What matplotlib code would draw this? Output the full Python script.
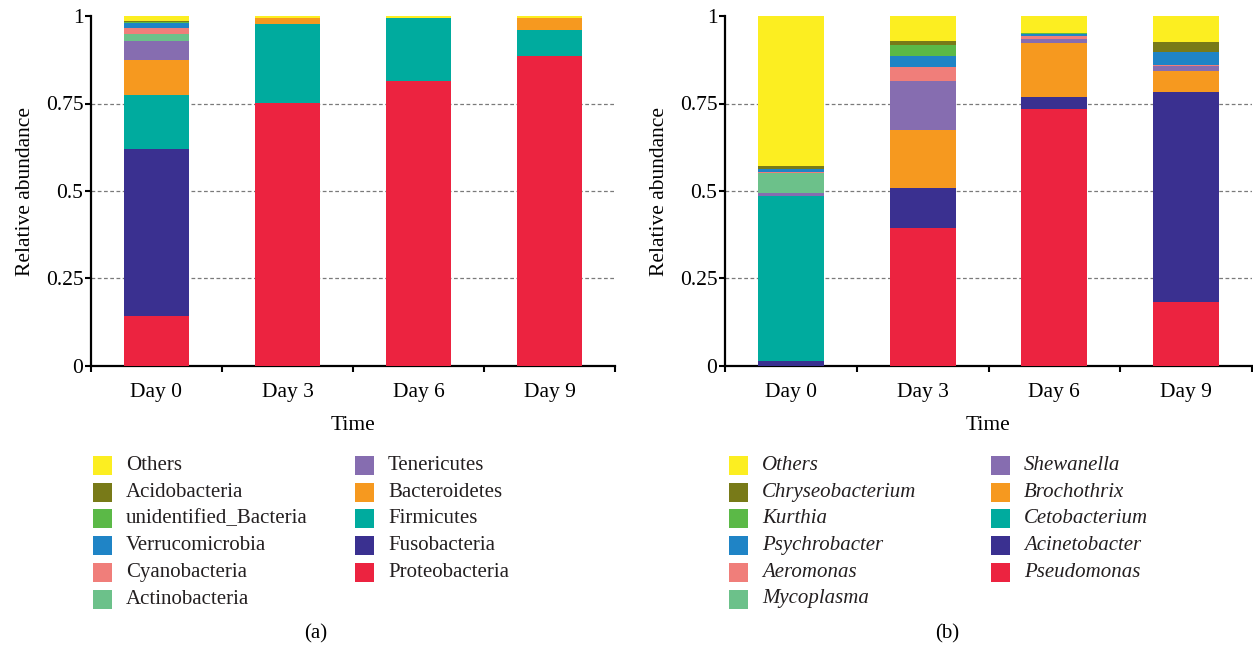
import matplotlib
matplotlib.use("Agg")
import matplotlib.pyplot as plt
from matplotlib.patches import Rectangle
import numpy as np

plt.rcParams["font.family"] = ["Liberation Serif", "DejaVu Serif"]

W, H = 1253, 650

days = ["Day 0", "Day 3", "Day 6", "Day 9"]
y_ticks = [0, 0.25, 0.5, 0.75, 1]
y_tick_labels = ["0", "0.25", "0.5", "0.75", "1"]

# (a) phylum level, listed from the bottom of each stack upwards
phyla = ["Proteobacteria", "Fusobacteria", "Firmicutes", "Bacteroidetes",
         "Tenericutes", "Actinobacteria", "Cyanobacteria", "Verrucomicrobia",
         "unidentified_Bacteria", "Acidobacteria", "Others"]
proteobacteria = [0.142, 0.751, 0.815, 0.885]
fusobacteria = [0.478, 0.0, 0.0, 0.0]
firmicutes = [0.155, 0.226, 0.178, 0.076]
bacteroidetes = [0.100, 0.018, 0.002, 0.034]
tenericutes = [0.055, 0.0, 0.0, 0.0]
actinobacteria = [0.019, 0.0, 0.0, 0.0]
cyanobacteria = [0.017, 0.0, 0.0, 0.0]
verrucomicrobia = [0.014, 0.0, 0.0, 0.0]
unidentified_bacteria = [0.003, 0.0, 0.0, 0.0]
acidobacteria = [0.002, 0.0, 0.0, 0.0]
others_a = [0.015, 0.005, 0.005, 0.005]

# (b) genus level, listed from the bottom of each stack upwards
genera = ["Pseudomonas", "Acinetobacter", "Cetobacterium", "Brochothrix",
          "Shewanella", "Mycoplasma", "Aeromonas", "Psychrobacter",
          "Kurthia", "Chryseobacterium", "Others"]
pseudomonas = [0.0, 0.395, 0.735, 0.182]
acinetobacter = [0.015, 0.113, 0.034, 0.600]
cetobacterium = [0.472, 0.0, 0.0, 0.002]
brochothrix = [0.0, 0.165, 0.155, 0.060]
shewanella = [0.008, 0.142, 0.010, 0.012]
mycoplasma = [0.057, 0.0, 0.0, 0.0]
aeromonas = [0.002, 0.038, 0.008, 0.005]
psychrobacter = [0.008, 0.034, 0.007, 0.035]
kurthia = [0.002, 0.031, 0.003, 0.0]
chryseobacterium = [0.006, 0.011, 0.0, 0.030]
others_b = [0.430, 0.071, 0.048, 0.074]

series_a = [proteobacteria, fusobacteria, firmicutes, bacteroidetes, tenericutes,
            actinobacteria, cyanobacteria, verrucomicrobia, unidentified_bacteria,
            acidobacteria, others_a]
series_b = [pseudomonas, acinetobacter, cetobacterium, brochothrix, shewanella,
            mycoplasma, aeromonas, psychrobacter, kurthia, chryseobacterium, others_b]

palette = ["#EC2340", "#3A3090", "#00AB9E", "#F6991F", "#866DB0", "#6CC18A",
           "#F07E7A", "#1F84C6", "#5BB947", "#787A18", "#FCEE21"]

FS = 15
TICK_FS = 15.5


def fx(px):
    return px / W


def fy(py):
    return 1 - py / H


fig = plt.figure(figsize=(W / 100, H / 100), dpi=100)
ax_a = fig.add_axes([fx(91), fy(366), fx(615) - fx(91), fy(16) - fy(366)])
ax_b = fig.add_axes([fx(725), fy(366), fx(1252) - fx(725), fy(16) - fy(366)])


def stacked(ax, series):
    x = np.arange(len(days))
    bottom = np.zeros(len(days))
    for vals, col in zip(series, palette):
        vals = np.asarray(vals)
        ax.bar(x, vals, width=0.5, bottom=bottom, color=col, linewidth=0, zorder=3)
        bottom += vals
    ax.set_xlim(-0.5, len(days) - 0.5)
    ax.set_ylim(0, 1)
    ax.set_xticks(x)
    ax.set_xticklabels(days, fontsize=TICK_FS)
    ax.set_xticks(np.arange(-0.5, len(days)), minor=True)
    ax.tick_params(axis="x", which="major", length=0, pad=12)
    ax.tick_params(axis="x", which="minor", length=4, width=1.5, direction="out")
    ax.set_yticks(y_ticks)
    ax.set_yticklabels(y_tick_labels, fontsize=TICK_FS)
    ax.tick_params(axis="y", length=4, width=1.5, pad=1.5)
    for gy in [0.25, 0.5, 0.75]:
        ax.axhline(gy, color="#7a7a7a", linestyle=(0, (3, 2)), linewidth=0.9, zorder=1)
    for s in ["top", "right"]:
        ax.spines[s].set_visible(False)
    for s in ["left", "bottom"]:
        ax.spines[s].set_linewidth(1.6)
    ax.set_xlabel("Time", fontsize=TICK_FS, labelpad=10)
    ax.set_ylabel("Relative abundance", fontsize=TICK_FS, labelpad=8)


stacked(ax_a, series_a)
stacked(ax_b, series_b)


def legend(names, x_col1, x_col2, italic):
    entries = list(zip(names, palette))[::-1]
    cols = [entries[:6], entries[6:]]
    for cx, col in zip([x_col1, x_col2], cols):
        for r, (name, color) in enumerate(col):
            top = 456 + r * 26.7
            fig.add_artist(Rectangle((fx(cx), fy(top + 19)), fx(19), 19 / H,
                                     transform=fig.transFigure, color=color, lw=0))
            fig.text(fx(cx + 33), fy(top + 9.5), name, fontsize=FS,
                     style="italic" if italic else "normal",
                     ha="left", va="center", color="#231f20")


legend(phyla, 93, 355, False)
legend(genera, 729, 991, True)

fig.text(fx(316), fy(634), "(a)", fontsize=FS, ha="center", va="center")
fig.text(fx(947), fy(634), "(b)", fontsize=FS, ha="center", va="center")

fig.savefig("out.png", dpi=100)
